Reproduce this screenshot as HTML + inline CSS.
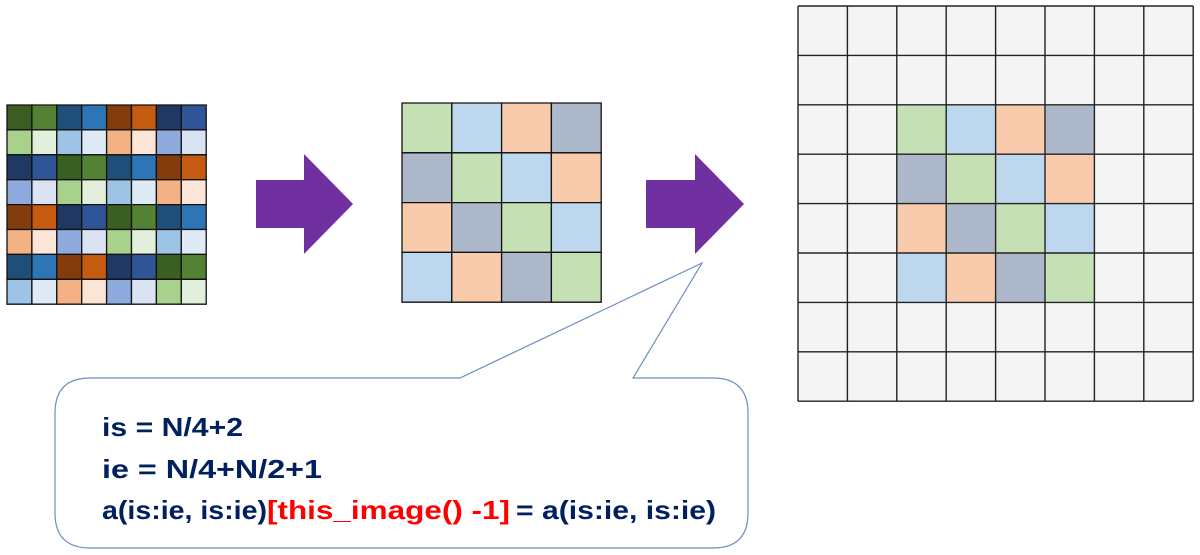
<!DOCTYPE html>
<html><head><meta charset="utf-8"><style>html,body{margin:0;padding:0;background:#fff;}svg{display:block}</style></head>
<body>
<svg width="1200" height="555" viewBox="0 0 1200 555" xmlns="http://www.w3.org/2000/svg">
<g transform="translate(7,105) scale(24.9)" stroke="#111" stroke-width="1.3" vector-effect="non-scaling-stroke">
<g stroke="#111">
<rect x="0" y="0" width="1" height="1" fill="#3b5e23" vector-effect="non-scaling-stroke"/><rect x="1" y="0" width="1" height="1" fill="#548235" vector-effect="non-scaling-stroke"/><rect x="2" y="0" width="1" height="1" fill="#1f4e79" vector-effect="non-scaling-stroke"/><rect x="3" y="0" width="1" height="1" fill="#2e75b6" vector-effect="non-scaling-stroke"/><rect x="4" y="0" width="1" height="1" fill="#843c0c" vector-effect="non-scaling-stroke"/><rect x="5" y="0" width="1" height="1" fill="#c55a11" vector-effect="non-scaling-stroke"/><rect x="6" y="0" width="1" height="1" fill="#203864" vector-effect="non-scaling-stroke"/><rect x="7" y="0" width="1" height="1" fill="#2f5597" vector-effect="non-scaling-stroke"/>
<rect x="0" y="1" width="1" height="1" fill="#a9d18e" vector-effect="non-scaling-stroke"/><rect x="1" y="1" width="1" height="1" fill="#e2efda" vector-effect="non-scaling-stroke"/><rect x="2" y="1" width="1" height="1" fill="#9dc3e6" vector-effect="non-scaling-stroke"/><rect x="3" y="1" width="1" height="1" fill="#deebf7" vector-effect="non-scaling-stroke"/><rect x="4" y="1" width="1" height="1" fill="#f4b183" vector-effect="non-scaling-stroke"/><rect x="5" y="1" width="1" height="1" fill="#fbe5d6" vector-effect="non-scaling-stroke"/><rect x="6" y="1" width="1" height="1" fill="#8faadc" vector-effect="non-scaling-stroke"/><rect x="7" y="1" width="1" height="1" fill="#dae3f3" vector-effect="non-scaling-stroke"/>
<rect x="0" y="2" width="1" height="1" fill="#203864" vector-effect="non-scaling-stroke"/><rect x="1" y="2" width="1" height="1" fill="#2f5597" vector-effect="non-scaling-stroke"/><rect x="2" y="2" width="1" height="1" fill="#3b5e23" vector-effect="non-scaling-stroke"/><rect x="3" y="2" width="1" height="1" fill="#548235" vector-effect="non-scaling-stroke"/><rect x="4" y="2" width="1" height="1" fill="#1f4e79" vector-effect="non-scaling-stroke"/><rect x="5" y="2" width="1" height="1" fill="#2e75b6" vector-effect="non-scaling-stroke"/><rect x="6" y="2" width="1" height="1" fill="#843c0c" vector-effect="non-scaling-stroke"/><rect x="7" y="2" width="1" height="1" fill="#c55a11" vector-effect="non-scaling-stroke"/>
<rect x="0" y="3" width="1" height="1" fill="#8faadc" vector-effect="non-scaling-stroke"/><rect x="1" y="3" width="1" height="1" fill="#dae3f3" vector-effect="non-scaling-stroke"/><rect x="2" y="3" width="1" height="1" fill="#a9d18e" vector-effect="non-scaling-stroke"/><rect x="3" y="3" width="1" height="1" fill="#e2efda" vector-effect="non-scaling-stroke"/><rect x="4" y="3" width="1" height="1" fill="#9dc3e6" vector-effect="non-scaling-stroke"/><rect x="5" y="3" width="1" height="1" fill="#deebf7" vector-effect="non-scaling-stroke"/><rect x="6" y="3" width="1" height="1" fill="#f4b183" vector-effect="non-scaling-stroke"/><rect x="7" y="3" width="1" height="1" fill="#fbe5d6" vector-effect="non-scaling-stroke"/>
<rect x="0" y="4" width="1" height="1" fill="#843c0c" vector-effect="non-scaling-stroke"/><rect x="1" y="4" width="1" height="1" fill="#c55a11" vector-effect="non-scaling-stroke"/><rect x="2" y="4" width="1" height="1" fill="#203864" vector-effect="non-scaling-stroke"/><rect x="3" y="4" width="1" height="1" fill="#2f5597" vector-effect="non-scaling-stroke"/><rect x="4" y="4" width="1" height="1" fill="#3b5e23" vector-effect="non-scaling-stroke"/><rect x="5" y="4" width="1" height="1" fill="#548235" vector-effect="non-scaling-stroke"/><rect x="6" y="4" width="1" height="1" fill="#1f4e79" vector-effect="non-scaling-stroke"/><rect x="7" y="4" width="1" height="1" fill="#2e75b6" vector-effect="non-scaling-stroke"/>
<rect x="0" y="5" width="1" height="1" fill="#f4b183" vector-effect="non-scaling-stroke"/><rect x="1" y="5" width="1" height="1" fill="#fbe5d6" vector-effect="non-scaling-stroke"/><rect x="2" y="5" width="1" height="1" fill="#8faadc" vector-effect="non-scaling-stroke"/><rect x="3" y="5" width="1" height="1" fill="#dae3f3" vector-effect="non-scaling-stroke"/><rect x="4" y="5" width="1" height="1" fill="#a9d18e" vector-effect="non-scaling-stroke"/><rect x="5" y="5" width="1" height="1" fill="#e2efda" vector-effect="non-scaling-stroke"/><rect x="6" y="5" width="1" height="1" fill="#9dc3e6" vector-effect="non-scaling-stroke"/><rect x="7" y="5" width="1" height="1" fill="#deebf7" vector-effect="non-scaling-stroke"/>
<rect x="0" y="6" width="1" height="1" fill="#1f4e79" vector-effect="non-scaling-stroke"/><rect x="1" y="6" width="1" height="1" fill="#2e75b6" vector-effect="non-scaling-stroke"/><rect x="2" y="6" width="1" height="1" fill="#843c0c" vector-effect="non-scaling-stroke"/><rect x="3" y="6" width="1" height="1" fill="#c55a11" vector-effect="non-scaling-stroke"/><rect x="4" y="6" width="1" height="1" fill="#203864" vector-effect="non-scaling-stroke"/><rect x="5" y="6" width="1" height="1" fill="#2f5597" vector-effect="non-scaling-stroke"/><rect x="6" y="6" width="1" height="1" fill="#3b5e23" vector-effect="non-scaling-stroke"/><rect x="7" y="6" width="1" height="1" fill="#548235" vector-effect="non-scaling-stroke"/>
<rect x="0" y="7" width="1" height="1" fill="#9dc3e6" vector-effect="non-scaling-stroke"/><rect x="1" y="7" width="1" height="1" fill="#deebf7" vector-effect="non-scaling-stroke"/><rect x="2" y="7" width="1" height="1" fill="#f4b183" vector-effect="non-scaling-stroke"/><rect x="3" y="7" width="1" height="1" fill="#fbe5d6" vector-effect="non-scaling-stroke"/><rect x="4" y="7" width="1" height="1" fill="#8faadc" vector-effect="non-scaling-stroke"/><rect x="5" y="7" width="1" height="1" fill="#dae3f3" vector-effect="non-scaling-stroke"/><rect x="6" y="7" width="1" height="1" fill="#a9d18e" vector-effect="non-scaling-stroke"/><rect x="7" y="7" width="1" height="1" fill="#e2efda" vector-effect="non-scaling-stroke"/>
</g></g>

<g transform="translate(402,103) scale(49.8)">
<g stroke="#111" stroke-width="1.3">
<rect x="0" y="0" width="1" height="1" fill="#c5e0b4" vector-effect="non-scaling-stroke"/><rect x="1" y="0" width="1" height="1" fill="#bdd7ee" vector-effect="non-scaling-stroke"/><rect x="2" y="0" width="1" height="1" fill="#f8cbad" vector-effect="non-scaling-stroke"/><rect x="3" y="0" width="1" height="1" fill="#adb9ca" vector-effect="non-scaling-stroke"/>
<rect x="0" y="1" width="1" height="1" fill="#adb9ca" vector-effect="non-scaling-stroke"/><rect x="1" y="1" width="1" height="1" fill="#c5e0b4" vector-effect="non-scaling-stroke"/><rect x="2" y="1" width="1" height="1" fill="#bdd7ee" vector-effect="non-scaling-stroke"/><rect x="3" y="1" width="1" height="1" fill="#f8cbad" vector-effect="non-scaling-stroke"/>
<rect x="0" y="2" width="1" height="1" fill="#f8cbad" vector-effect="non-scaling-stroke"/><rect x="1" y="2" width="1" height="1" fill="#adb9ca" vector-effect="non-scaling-stroke"/><rect x="2" y="2" width="1" height="1" fill="#c5e0b4" vector-effect="non-scaling-stroke"/><rect x="3" y="2" width="1" height="1" fill="#bdd7ee" vector-effect="non-scaling-stroke"/>
<rect x="0" y="3" width="1" height="1" fill="#bdd7ee" vector-effect="non-scaling-stroke"/><rect x="1" y="3" width="1" height="1" fill="#f8cbad" vector-effect="non-scaling-stroke"/><rect x="2" y="3" width="1" height="1" fill="#adb9ca" vector-effect="non-scaling-stroke"/><rect x="3" y="3" width="1" height="1" fill="#c5e0b4" vector-effect="non-scaling-stroke"/>
</g></g>

<g transform="translate(798,6) scale(49.4)">
<rect x="0" y="0" width="8" height="8" fill="#f4f4f4"/>
<g>
<rect x="2" y="2" width="1" height="1" fill="#c5e0b4"/><rect x="3" y="2" width="1" height="1" fill="#bdd7ee"/><rect x="4" y="2" width="1" height="1" fill="#f8cbad"/><rect x="5" y="2" width="1" height="1" fill="#adb9ca"/>
<rect x="2" y="3" width="1" height="1" fill="#adb9ca"/><rect x="3" y="3" width="1" height="1" fill="#c5e0b4"/><rect x="4" y="3" width="1" height="1" fill="#bdd7ee"/><rect x="5" y="3" width="1" height="1" fill="#f8cbad"/>
<rect x="2" y="4" width="1" height="1" fill="#f8cbad"/><rect x="3" y="4" width="1" height="1" fill="#adb9ca"/><rect x="4" y="4" width="1" height="1" fill="#c5e0b4"/><rect x="5" y="4" width="1" height="1" fill="#bdd7ee"/>
<rect x="2" y="5" width="1" height="1" fill="#bdd7ee"/><rect x="3" y="5" width="1" height="1" fill="#f8cbad"/><rect x="4" y="5" width="1" height="1" fill="#adb9ca"/><rect x="5" y="5" width="1" height="1" fill="#c5e0b4"/>
</g>
<path d="M0 0V8M1 0V8M2 0V8M3 0V8M4 0V8M5 0V8M6 0V8M7 0V8M8 0V8M0 0H8M0 1H8M0 2H8M0 3H8M0 4H8M0 5H8M0 6H8M0 7H8M0 8H8" stroke="#222" stroke-width="1.4" fill="none" vector-effect="non-scaling-stroke"/>
</g>

<polygon points="256,180 304,180 304,154 353,204 304,254 304,228 256,228" fill="#7030a0"/>
<polygon points="646,180 695,180 695,154 744,204 695,254 695,228 646,228" fill="#7030a0"/>

<path d="M90,378 H460 L702,263 L633,378 H713 Q748,378 748,413 V513 Q748,548 713,548 H90 Q55,548 55,513 V413 Q55,378 90,378 Z" fill="#fff" stroke="#6f8fbf" stroke-width="1.2"/>

<g font-family="Liberation Sans, sans-serif" font-weight="bold" font-size="26" fill="#002060">
<text x="102" y="436" textLength="141" lengthAdjust="spacingAndGlyphs">is = N/4+2</text>
<text x="102" y="478" textLength="220" lengthAdjust="spacingAndGlyphs">ie = N/4+N/2+1</text>
<text x="102" y="519" textLength="165" lengthAdjust="spacingAndGlyphs">a(is:ie, is:ie)</text>
<text x="267" y="519" fill="#ff0000" textLength="243" lengthAdjust="spacingAndGlyphs">[this_image() -1]</text>
<text x="516" y="519" textLength="200" lengthAdjust="spacingAndGlyphs">= a(is:ie, is:ie)</text>
</g>
</svg>
</body></html>
